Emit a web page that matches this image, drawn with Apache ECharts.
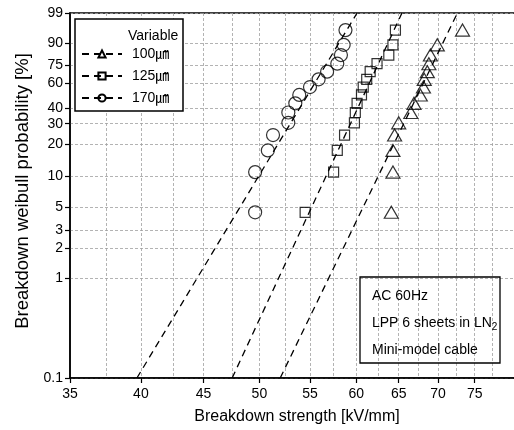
<!DOCTYPE html>
<html><head><meta charset="utf-8">
<script src="https://cdn.jsdelivr.net/npm/echarts@6/dist/echarts.min.js"></script>
<style>html,body{margin:0;padding:0;background:#fff}#c{width:514px;height:430px}</style>
</head><body><div id="c"></div>
<script>
// ---- data ----
const xTickLabels = [35, 40, 45, 50, 55, 60, 65, 70, 75];
const xGridValues = [37.5, 40, 42.5, 45, 47.5, 50, 52.5, 55, 57.5, 60, 62.5, 65, 67.5, 70, 72.5, 75, 77.5];
const yTickLabels = [0.1, 1, 2, 3, 5, 10, 20, 30, 40, 60, 75, 90, 99];
const xMin = 35, xMax = 82.3;
const yMin = 0.1, yMax = 99;

const probs = [4.5, 11.0, 17.5, 24.0, 30.5, 37.0, 43.5, 50.0, 56.5, 63.0, 69.5, 76.0, 82.5, 89.0, 95.5];
const x100 = [64.1, 64.3, 64.3, 64.5, 65.0, 66.5, 66.9, 67.7, 68.1, 68.2, 68.6, 68.8, 69.0, 69.9, 73.3];
const x125 = [54.5, 57.5, 57.9, 58.7, 59.8, 59.9, 60.1, 60.6, 60.8, 61.2, 61.6, 62.4, 63.8, 64.3, 64.6];
const x170 = [49.6, 49.6, 50.8, 51.3, 52.8, 52.8, 53.5, 53.9, 55.0, 55.9, 56.8, 57.9, 58.3, 58.6, 58.8];

const fitP = [0.1, 99];
const fit100 = [52.0, 72.6];
const fit125 = [47.5, 65.4];
const fit170 = [39.7, 60.1];

const names = ['100㎛', '125㎛', '170㎛'];

// ---- transforms (Weibull paper: log x, ln(-ln(1-F)) y) ----
const tx = v => Math.log(v);
const ty = p => Math.log(-Math.log(1 - p / 100));
const pts = (xs, ps) => xs.map((x, i) => [tx(x), ty(ps[i])]);

const FONT = "'Liberation Sans','Noto Sans CJK KR',Arial,sans-serif";
const gridLine = { show: true, lineStyle: { color: '#a0a0a0', width: 0.8, type: [3, 2] } };

const yLabelFor = v => {
  let best = yTickLabels[0], d = Infinity;
  yTickLabels.forEach(t => { const dd = Math.abs(ty(t) - v); if (dd < d) { d = dd; best = t; } });
  return String(best);
};

const markerStyle = { color: 'transparent', borderColor: '#000', borderWidth: 1.2 };
const fitLine = (name, fit, sym) => ({
  type: 'line', name: name, data: [[tx(fit[0]), ty(fitP[0])], [tx(fit[1]), ty(fitP[1])]],
  symbol: sym, showSymbol: false, silent: true, z: 2,
  lineStyle: { color: '#000', width: 1.3, type: [7, 5] },
  itemStyle: markerStyle
});
const scatter = (name, xs, sym, size) => ({
  type: 'scatter', name: name, data: pts(xs, probs), symbol: sym, symbolSize: size, z: 3,
  itemStyle: markerStyle
});

const chart = echarts.init(document.getElementById('c'), null, { renderer: 'canvas' });
chart.setOption({
  animation: false,
  backgroundColor: '#fff',
  grid: { left: 70, top: 13, right: -10, bottom: 52, show: true, borderColor: '#000', borderWidth: 1.5,
          backgroundColor: 'transparent', containLabel: false, outerBoundsMode: 'none' },
  xAxis: [{
    type: 'value', min: tx(xMin), max: tx(xMax),
    axisLine: { show: true, onZero: false, lineStyle: { color: '#000', width: 1.5 } },
    axisTick: { show: true, length: 5, customValues: xTickLabels.map(tx), lineStyle: { color: '#000', width: 1.2 } },
    axisLabel: { customValues: xTickLabels.map(tx), formatter: v => String(Math.round(Math.exp(v))),
                 color: '#000', fontSize: 14, fontFamily: FONT, margin: 9 },
    splitLine: { show: false },
    name: 'Breakdown strength [kV/mm]', nameLocation: 'middle', nameGap: 31,
    nameTextStyle: { color: '#000', fontSize: 16, fontFamily: FONT }
  }, {
    type: 'value', min: tx(xMin), max: tx(xMax), position: 'bottom',
    axisLine: { show: false }, axisLabel: { show: false },
    axisTick: { show: false, customValues: xGridValues.map(tx) },
    splitLine: gridLine
  }],
  yAxis: [{
    type: 'value', min: ty(yMin), max: ty(yMax),
    axisLine: { show: true, onZero: false, lineStyle: { color: '#000', width: 1.5 } },
    axisTick: { show: true, length: 5, customValues: yTickLabels.map(ty), lineStyle: { color: '#000', width: 1.2 } },
    axisLabel: { customValues: yTickLabels.map(ty), formatter: yLabelFor,
                 color: '#000', fontSize: 14, fontFamily: FONT, margin: 7 },
    splitLine: gridLine,
    name: 'Breakdown weibull probability [%]', nameLocation: 'middle', nameGap: 27,
    nameTextStyle: { color: '#000', fontSize: 18.5, fontFamily: FONT, padding: [0, 0, 0, 9] }
  }],
  legend: {
    data: names, orient: 'vertical', left: 81, top: 47, z: 20,
    itemWidth: 40, itemHeight: 9, itemGap: 8, selectedMode: false,
    padding: 0,
    textStyle: { color: '#000', fontSize: 14, fontFamily: FONT, lineHeight: 14, padding: [0, 0, 0, 5] }
  },
  graphic: [
    { type: 'rect', z: 15, shape: { x: 75, y: 19, width: 108, height: 92 },
      style: { fill: '#fff', stroke: '#000', lineWidth: 1.5 } },
    { type: 'text', z: 16, x: 128, y: 36,
      style: { text: 'Variable', fill: '#000', font: "14px " + FONT, textVerticalAlign: 'middle' } },
    { type: 'rect', z: 15, shape: { x: 360, y: 277, width: 140, height: 86 },
      style: { fill: 'transparent', stroke: '#000', lineWidth: 1.3 } },
    { type: 'text', z: 16, x: 372, y: 296,
      style: { text: 'AC 60Hz', fill: '#000', font: "14px " + FONT, textVerticalAlign: 'middle' } },
    { type: 'text', z: 16, x: 372, y: 323,
      style: { text: 'LPP 6 sheets in LN{s|2}', fill: '#000', font: "14px " + FONT, textVerticalAlign: 'middle',
               rich: { s: { fontSize: 10, fontFamily: FONT, fill: '#000', padding: [8, 0, 0, 0] } } } },
    { type: 'text', z: 16, x: 372, y: 350,
      style: { text: 'Mini-model cable', fill: '#000', font: "14px " + FONT, textVerticalAlign: 'middle' } }
  ],
  series: [
    fitLine(names[0], fit100, 'triangle'),
    fitLine(names[1], fit125, 'rect'),
    fitLine(names[2], fit170, 'circle'),
    scatter(names[0], x100, 'triangle', [14, 12]),
    scatter(names[1], x125, 'rect', 10),
    scatter(names[2], x170, 'circle', 13)
  ]
});
</script></body></html>
